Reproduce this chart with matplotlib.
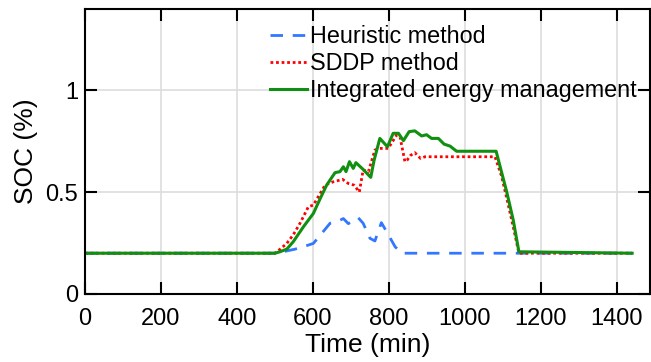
import matplotlib
matplotlib.use("Agg")
import matplotlib.pyplot as plt

plt.rcParams['font.family'] = ['Liberation Sans', 'DejaVu Sans']

# Heuristic method
t_heur = [0, 505, 513, 553, 575, 601, 623, 645, 667, 680, 693, 706, 719, 732, 750, 763, 780, 794, 816, 833, 1440]
soc_heur = [0.2, 0.2, 0.204, 0.22, 0.232, 0.248, 0.297, 0.347, 0.358, 0.37, 0.345, 0.358, 0.374, 0.347, 0.273, 0.26, 0.35, 0.305, 0.232, 0.2, 0.2]

# SDDP method
t_sddp = [0, 500, 513, 531, 548, 566, 588, 601, 614, 632, 653, 678, 693, 708, 722, 732, 746, 763, 776, 798,
          820, 829, 842, 848, 857, 868, 883, 895, 1079, 1096, 1110, 1127, 1142, 1440]
soc_sddp = [0.2, 0.2, 0.219, 0.248, 0.29, 0.347, 0.428, 0.436, 0.477, 0.534, 0.55, 0.562, 0.542, 0.534, 0.50, 0.608, 0.60, 0.706, 0.714, 0.714,
            0.779, 0.771, 0.649, 0.657, 0.68, 0.693, 0.665, 0.673, 0.673, 0.58, 0.47, 0.33, 0.2, 0.2]

# Integrated energy management
t_iem = [0, 500, 513, 531, 548, 575, 601, 618, 636, 658, 671, 680, 687, 696, 706, 713, 732, 752, 761, 776, 796,
         811, 825, 838, 853, 868, 886, 899, 912, 930, 945, 961, 978, 1082, 1096, 1110, 1127, 1142, 1440]
soc_iem = [0.2, 0.2, 0.207, 0.22, 0.256, 0.33, 0.395, 0.464, 0.534, 0.595, 0.60, 0.624, 0.60, 0.649, 0.616, 0.644, 0.611, 0.572, 0.657, 0.763, 0.722,
           0.788, 0.788, 0.752, 0.796, 0.80, 0.775, 0.781, 0.763, 0.763, 0.735, 0.725, 0.70, 0.70, 0.60, 0.50, 0.363, 0.207, 0.2]

xticks = [0, 200, 400, 600, 800, 1000, 1200, 1400]
yticks = [0, 0.5, 1]
ytick_labels = ['0', '0.5', '1']

fig = plt.figure(figsize=(6.51, 3.62), dpi=100)
ax = fig.add_axes([85/651, (362-294)/362, 565/651, (294-8.5)/362])

ax.plot(t_heur, soc_heur, color='#3377ff', linestyle=(0, (4.5, 3.5)), linewidth=2, label='Heuristic method')
ax.plot(t_sddp, soc_sddp, color='#ff0000', linestyle=(0, (1, 1)), linewidth=2, label='SDDP method')
ax.plot(t_iem, soc_iem, color='#109010', linestyle='-', linewidth=2.2, label='Integrated energy management')

ax.set_xlim(0, 1487)
ax.set_ylim(0, 1.4)
ax.set_xticks(xticks)
ax.set_yticks(yticks)
ax.set_yticklabels(ytick_labels)
ax.grid(True, color='#dddddd', linewidth=1.2)
ax.set_axisbelow(True)
ax.tick_params(direction='in', length=8.5, width=1.5, top=True, right=True, labelsize=17, pad=5, colors='black')
ax.tick_params(axis='x', pad=10)
for s in ax.spines.values():
    s.set_linewidth(1.5)
ax.set_xlabel('Time (min)', fontsize=19, labelpad=2.5)
ax.set_ylabel('SOC (%)', fontsize=19, labelpad=5.5)

leg = ax.legend(loc='upper left', bbox_to_anchor=(258/651, 1 - 13/362), bbox_transform=fig.transFigure,
                frameon=False, fontsize=16.8, handlelength=1.6, handletextpad=0.15, labelspacing=0.18, borderpad=0)

fig.savefig('out.png', dpi=100)
